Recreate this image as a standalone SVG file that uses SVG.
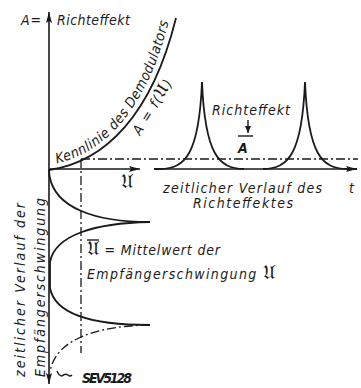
<svg xmlns="http://www.w3.org/2000/svg" width="361" height="388" viewBox="0 0 361 388">
<defs>
<marker id="arr" markerWidth="12" markerHeight="6" refX="11" refY="3" orient="auto-start-reverse" markerUnits="userSpaceOnUse"><path d="M0,0 L11,3 L0,6 L2,3 z" fill="#1a1a1a"/></marker>
<marker id="arrS" markerWidth="8" markerHeight="6" refX="7" refY="3" orient="auto" markerUnits="userSpaceOnUse"><path d="M0,0 L7,3 L0,6 z" fill="#1a1a1a"/></marker>
<path id="kl" d="M48,165 C103,157 148,110 170,16"/>
</defs>
<style>
.ax{stroke:#1a1a1a;stroke-width:1.6;fill:none}
.cv{stroke:#1a1a1a;stroke-width:1.8;fill:none}
.dd{stroke:#1a1a1a;stroke-width:1.3;fill:none;stroke-dasharray:9 3 2 3}
.ln{stroke:#1a1a1a;stroke-width:1.4;fill:none}
text{font-family:"DejaVu Sans Condensed","Liberation Sans",sans-serif;font-style:italic;fill:#1a1a1a;font-size:14px}
.fr{font-family:"DejaVu Serif","DejaVu Sans","Noto Sans",serif;font-style:normal;font-size:19px}
</style>
<rect width="361" height="388" fill="#fff"/>
<g id="axes">
<line class="ax" x1="49" y1="384" x2="49" y2="12" marker-start="url(#arr)" marker-end="url(#arr)"/>
<line class="ax" x1="49" y1="169" x2="140" y2="169" marker-end="url(#arr)"/>
<line class="ax" x1="154" y1="169" x2="357" y2="169" marker-end="url(#arr)"/>
<line class="dd" x1="81" y1="159" x2="358" y2="159"/>
<line class="dd" x1="81" y1="159" x2="81" y2="353"/>
</g>
<g id="curves">
<path class="cv" d="M49,170 C105,162 152,115 176,18"/>
<path class="cv" d="M154,169 L160,169 C185,168.5 199,155 202,82 C205,155 219,168.5 244,169"/>
<path class="cv" d="M263,169 C288,168.5 302,155 305,82 C308,155 322,168.5 347,169 L357,169"/>
<path class="cv" d="M49,170 L49.5,176 C55,208 95,222 150,222 C95,223 55,235 50,262 L50,288 C55,315 95,325 150,325"/>
<path class="dd" d="M150,325 C95,326 55,340 50,372"/>
<line class="ln" x1="248" y1="120" x2="248" y2="133" marker-end="url(#arrS)"/>
<line class="ln" x1="238" y1="136" x2="253" y2="136"/>
<line class="ln" x1="87" y1="240" x2="99" y2="240"/>
<path class="ln" d="M57,371 q2,5 5,5 q3,-3 6,-1 q2,2 4,0"/>
</g>
<g id="labels">
<text x="21" y="25" textLength="20">A =</text>
<text x="57" y="25" textLength="73">Richteffekt</text>
<text><textPath href="#kl" startOffset="9" textLength="190">Kennlinie des Demodulators</textPath></text>
<text transform="translate(140,136) rotate(-58)" textLength="62">A = f(<tspan class="fr" font-size="16">𝔘</tspan>)</text>
<text x="212" y="115" textLength="78">Richteffekt</text>
<text x="238" y="153" font-size="18" font-weight="bold" font-style="normal" font-family="Liberation Sans">A</text>
<text x="121" y="188" class="fr" font-size="22">𝔘</text>
<text x="163" y="193" textLength="159">zeitlicher Verlauf des</text>
<text x="349" y="193">t</text>
<text x="193" y="208" textLength="100">Richteffektes</text>
<text x="87" y="255" textLength="133"><tspan class="fr">𝔘</tspan> = Mittelwert der</text>
<text x="87" y="279" textLength="188">Empfängerschwingung <tspan class="fr">𝔘</tspan></text>
<text transform="translate(25,377) rotate(-90)" textLength="174">zeitlicher Verlauf der</text>
<text transform="translate(45,377) rotate(-90)" textLength="179">Empfängerschwingung</text>
<text x="82" y="383" font-size="12" font-weight="bold" textLength="50" font-family="Liberation Sans">SEV5128</text>
</g>
</svg>
